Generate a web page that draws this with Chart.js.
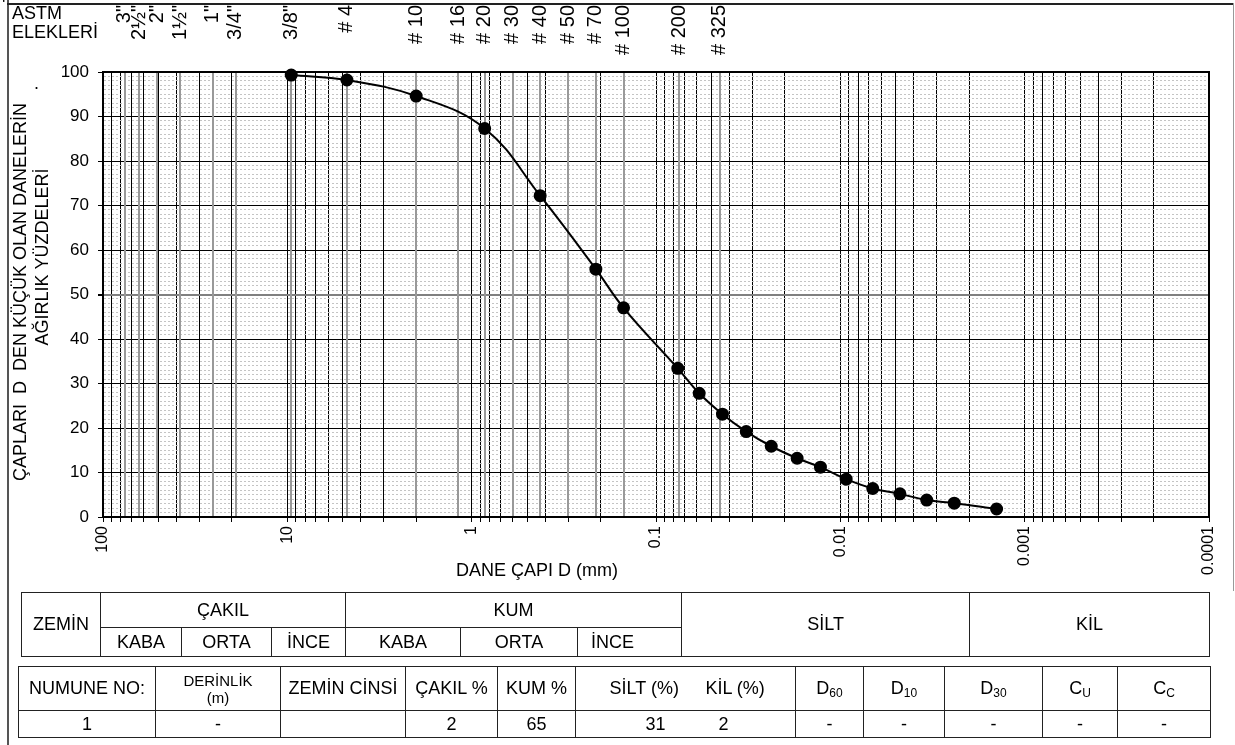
<!DOCTYPE html>
<html>
<head>
<meta charset="utf-8">
<script src="https://cdn.jsdelivr.net/npm/chart.js@4.4.1/dist/chart.umd.min.js"></script>
<style>
  body { margin: 0; background: #fff; font-family: "Liberation Sans", Arial, sans-serif; }
  #page { position: relative; width: 1235px; height: 745px; overflow: hidden; }
  #chart { position: absolute; left: 0; top: 0; }
  .line { position: absolute; }
  table { position: absolute; border-collapse: collapse; table-layout: fixed; font-size: 18px; color: #000; }
  td { border: 1px solid #222; text-align: center; padding: 0; white-space: nowrap; overflow: hidden; }
  td.small { font-size: 15px; line-height: 17px; }
  sub { font-size: 12px; vertical-align: -3px; line-height: 0; }
</style>
</head>
<body>
<div id="page">
  <div class="line" style="left:7px;top:0;width:2px;height:745px;background:#555"></div>
  <div class="line" style="left:7px;top:3px;width:1227px;height:2px;background:#222"></div>
  <div class="line" style="left:1233px;top:3px;width:1px;height:588px;background:#999"></div>
  <canvas id="chart" width="1235" height="745"></canvas>

  <table style="left:21px;top:592px;width:1189px;height:64px">
    <colgroup>
      <col style="width:79px"><col style="width:81px"><col style="width:90px"><col style="width:74px">
      <col style="width:115px"><col style="width:117px"><col style="width:104px"><col style="width:288px"><col style="width:240px">
    </colgroup>
    <tr style="height:35px">
      <td rowspan="2">ZEMİN</td>
      <td colspan="3">ÇAKIL</td>
      <td colspan="3">KUM</td>
      <td rowspan="2">SİLT</td>
      <td rowspan="2">KİL</td>
    </tr>
    <tr style="height:29px">
      <td>KABA</td><td>ORTA</td><td>İNCE</td>
      <td>KABA</td><td>ORTA</td><td style="text-align:left;padding-left:13px">İNCE</td>
    </tr>
  </table>

  <table style="left:18px;top:666px;width:1192px;height:71px">
    <colgroup>
      <col style="width:137px"><col style="width:125px"><col style="width:125px"><col style="width:92px"><col style="width:78px">
      <col style="width:125px"><col style="width:95px"><col style="width:68px"><col style="width:81px"><col style="width:98px">
      <col style="width:75px"><col style="width:93px">
    </colgroup>
    <tr style="height:44px">
      <td>NUMUNE NO:</td>
      <td class="small">DERİNLİK<br>(m)</td>
      <td>ZEMİN CİNSİ</td>
      <td>ÇAKIL %</td>
      <td>KUM %</td>
      <td style="border-right:hidden;padding-left:12px">SİLT (%)</td>
      <td style="border-left:hidden;text-align:left;padding-left:5px">KİL (%)</td>
      <td>D<sub>60</sub></td>
      <td>D<sub>10</sub></td>
      <td>D<sub>30</sub></td>
      <td>C<sub>U</sub></td>
      <td>C<sub>C</sub></td>
    </tr>
    <tr style="height:27px">
      <td>1</td><td>-</td><td></td><td>2</td><td>65</td>
      <td style="border-right:hidden;text-align:right;padding-right:35px">31</td>
      <td style="border-left:hidden;text-align:left;padding-left:18px">2</td>
      <td>-</td><td>-</td><td>-</td><td>-</td><td>-</td>
    </tr>
  </table>
</div>

<script>
// sieve openings (mm) and their names along the top
const sieveSizes = [76.2, 63.5, 50.8, 38.1, 25.4, 19.05, 9.525, 4.75, 2.0, 1.18, 0.85, 0.6, 0.425, 0.3, 0.212, 0.15, 0.075, 0.045];
const sieveLabels = ['3"', '2½"', '2"', '1½"', '1"', '3/4"', '3/8"', '# 4', '# 10', '# 16', '# 20', '# 30', '# 40', '# 50', '# 70', '# 100', '# 200', '# 325'];

// grain size curve: diameter (mm) and percent finer
const grainSize = [9.525, 4.75, 2.0, 0.85, 0.425, 0.212, 0.15, 0.0762, 0.0583, 0.0436, 0.0324, 0.0237, 0.01715, 0.01282, 0.0093, 0.00667, 0.00475, 0.0034, 0.00241, 0.00142];
const percentFiner = [99.3, 98.2, 94.6, 87.3, 72.2, 55.7, 47.0, 33.4, 27.8, 23.1, 19.2, 15.9, 13.2, 11.2, 8.5, 6.4, 5.2, 3.8, 3.1, 1.8];

// axis ticks
const xTickValues = [100, 10, 1, 0.1, 0.01, 0.001, 0.0001];
const xTickLabels = ['100', '10', '1', '0.1', '0.01', '0.001', '0.0001'];
const yTickValues = [0, 10, 20, 30, 40, 50, 60, 70, 80, 90, 100];
const yTickLabels = ['0', '10', '20', '30', '40', '50', '60', '70', '80', '90', '100'];

const FONT = '"Liberation Sans", Arial, sans-serif';

// log paper: lines at 1..9 x 10^n, and every 1 % across
const xGrid = [];
for (let e = -4; e <= 1; e++) {
    for (let s = 1; s <= 9; s++) xGrid.push(parseFloat((s * Math.pow(10, e)).toPrecision(6)));
}
xGrid.push(100);
const yGrid = [];
for (let v = 0; v <= 100; v++) yGrid.push(v);

const isMajorY = c => c.tick && yTickValues.includes(c.tick.value);

const extras = {
    id: 'extras',
    beforeDatasetsDraw(chart) {
        const {ctx, chartArea: a, scales: {x}} = chart;
        ctx.save();
        ctx.strokeStyle = '#999';
        ctx.lineWidth = 2;
        sieveSizes.forEach(d => {
            const px = Math.round(x.getPixelForValue(d));
            ctx.beginPath();
            ctx.moveTo(px, a.top);
            ctx.lineTo(px, a.bottom);
            ctx.stroke();
        });
        ctx.restore();
    },
    afterDraw(chart) {
        const {ctx, chartArea: a, scales: {x}} = chart;
        ctx.save();
        // frame of the plot
        ctx.strokeStyle = '#000';
        ctx.lineWidth = 2;
        ctx.strokeRect(a.left, a.top, a.right - a.left, a.bottom - a.top);

        ctx.fillStyle = '#000';
        ctx.font = '20px ' + FONT;
        // sieve names
        sieveSizes.forEach((d, i) => {
            ctx.save();
            ctx.translate(x.getPixelForValue(d), 5);
            ctx.rotate(-Math.PI / 2);
            ctx.textAlign = 'right';
            ctx.textBaseline = 'middle';
            ctx.fillText(sieveLabels[i], 0, 0);
            ctx.restore();
        });

        ctx.font = '18px ' + FONT;
        ctx.textAlign = 'left';
        ctx.textBaseline = 'middle';
        ctx.fillText('ASTM', 12, 14);
        ctx.fillText('ELEKLERİ', 12, 33);
        ctx.fillText("'", 2, 6);
        ctx.fillText('.', 34, 84);

        ctx.textAlign = 'center';
        ctx.fillText('DANE ÇAPI D (mm)', 537, 571);

        ctx.save();
        ctx.translate(21, 292);
        ctx.rotate(-Math.PI / 2);
        ctx.fillText('ÇAPLARI  D  DEN KÜÇÜK OLAN DANELERİN', 0, 0);
        ctx.restore();
        ctx.save();
        ctx.translate(43, 257);
        ctx.rotate(-Math.PI / 2);
        ctx.fillText('AĞIRLIK YÜZDELERİ', 0, 0);
        ctx.restore();
        ctx.restore();
    }
};

new Chart(document.getElementById('chart'), {
    type: 'line',
    data: {
        datasets: [{
            data: grainSize.map((d, i) => ({x: d, y: percentFiner[i]})),
            borderColor: '#000',
            borderWidth: 2,
            backgroundColor: '#000',
            pointBackgroundColor: '#000',
            pointBorderColor: '#000',
            pointRadius: 5.5,
            tension: 0.4,
            clip: false
        }]
    },
    options: {
        responsive: false,
        animation: false,
        layout: { padding: { top: 72, right: 26, bottom: 155, left: 0 } },
        plugins: { legend: { display: false }, tooltip: { enabled: false } },
        scales: {
            x: {
                type: 'logarithmic',
                reverse: true,
                min: 0.0001,
                max: 100,
                afterBuildTicks: scale => { scale.ticks = xGrid.map(v => ({value: v})); },
                afterFit: scale => { scale.height = 73; },
                ticks: {
                    autoSkip: false,
                    minRotation: 90,
                    maxRotation: 90,
                    padding: 4,
                    color: '#000',
                    font: { family: FONT, size: 16 },
                    callback: v => {
                        const i = xTickValues.indexOf(v);
                        return i >= 0 ? xTickLabels[i] : '';
                    }
                },
                grid: { color: '#000', lineWidth: 1, tickLength: 5, tickColor: '#000' },
                border: { color: '#000', width: 2 }
            },
            y: {
                min: 0,
                max: 100,
                afterBuildTicks: scale => { scale.ticks = yGrid.map(v => ({value: v})); },
                afterFit: scale => { scale.width = 103; },
                ticks: {
                    autoSkip: false,
                    padding: 9,
                    color: '#000',
                    font: { family: FONT, size: 17 },
                    callback: v => {
                        const i = yTickValues.indexOf(v);
                        return i >= 0 ? yTickLabels[i] : '';
                    }
                },
                grid: {
                    color: c => isMajorY(c) ? (c.tick.value === 50 ? '#808080' : '#000') : '#c4c4c4',
                    lineWidth: c => (c.tick && c.tick.value === 50) ? 2 : 1,
                    tickLength: 5,
                    tickColor: c => isMajorY(c) ? '#000' : 'rgba(0,0,0,0)'
                },
                border: { color: '#000', width: 2, dash: c => (c.tick && !yTickValues.includes(c.tick.value)) ? [2, 2] : [] }
            }
        }
    },
    plugins: [extras]
});
</script>
</body>
</html>
